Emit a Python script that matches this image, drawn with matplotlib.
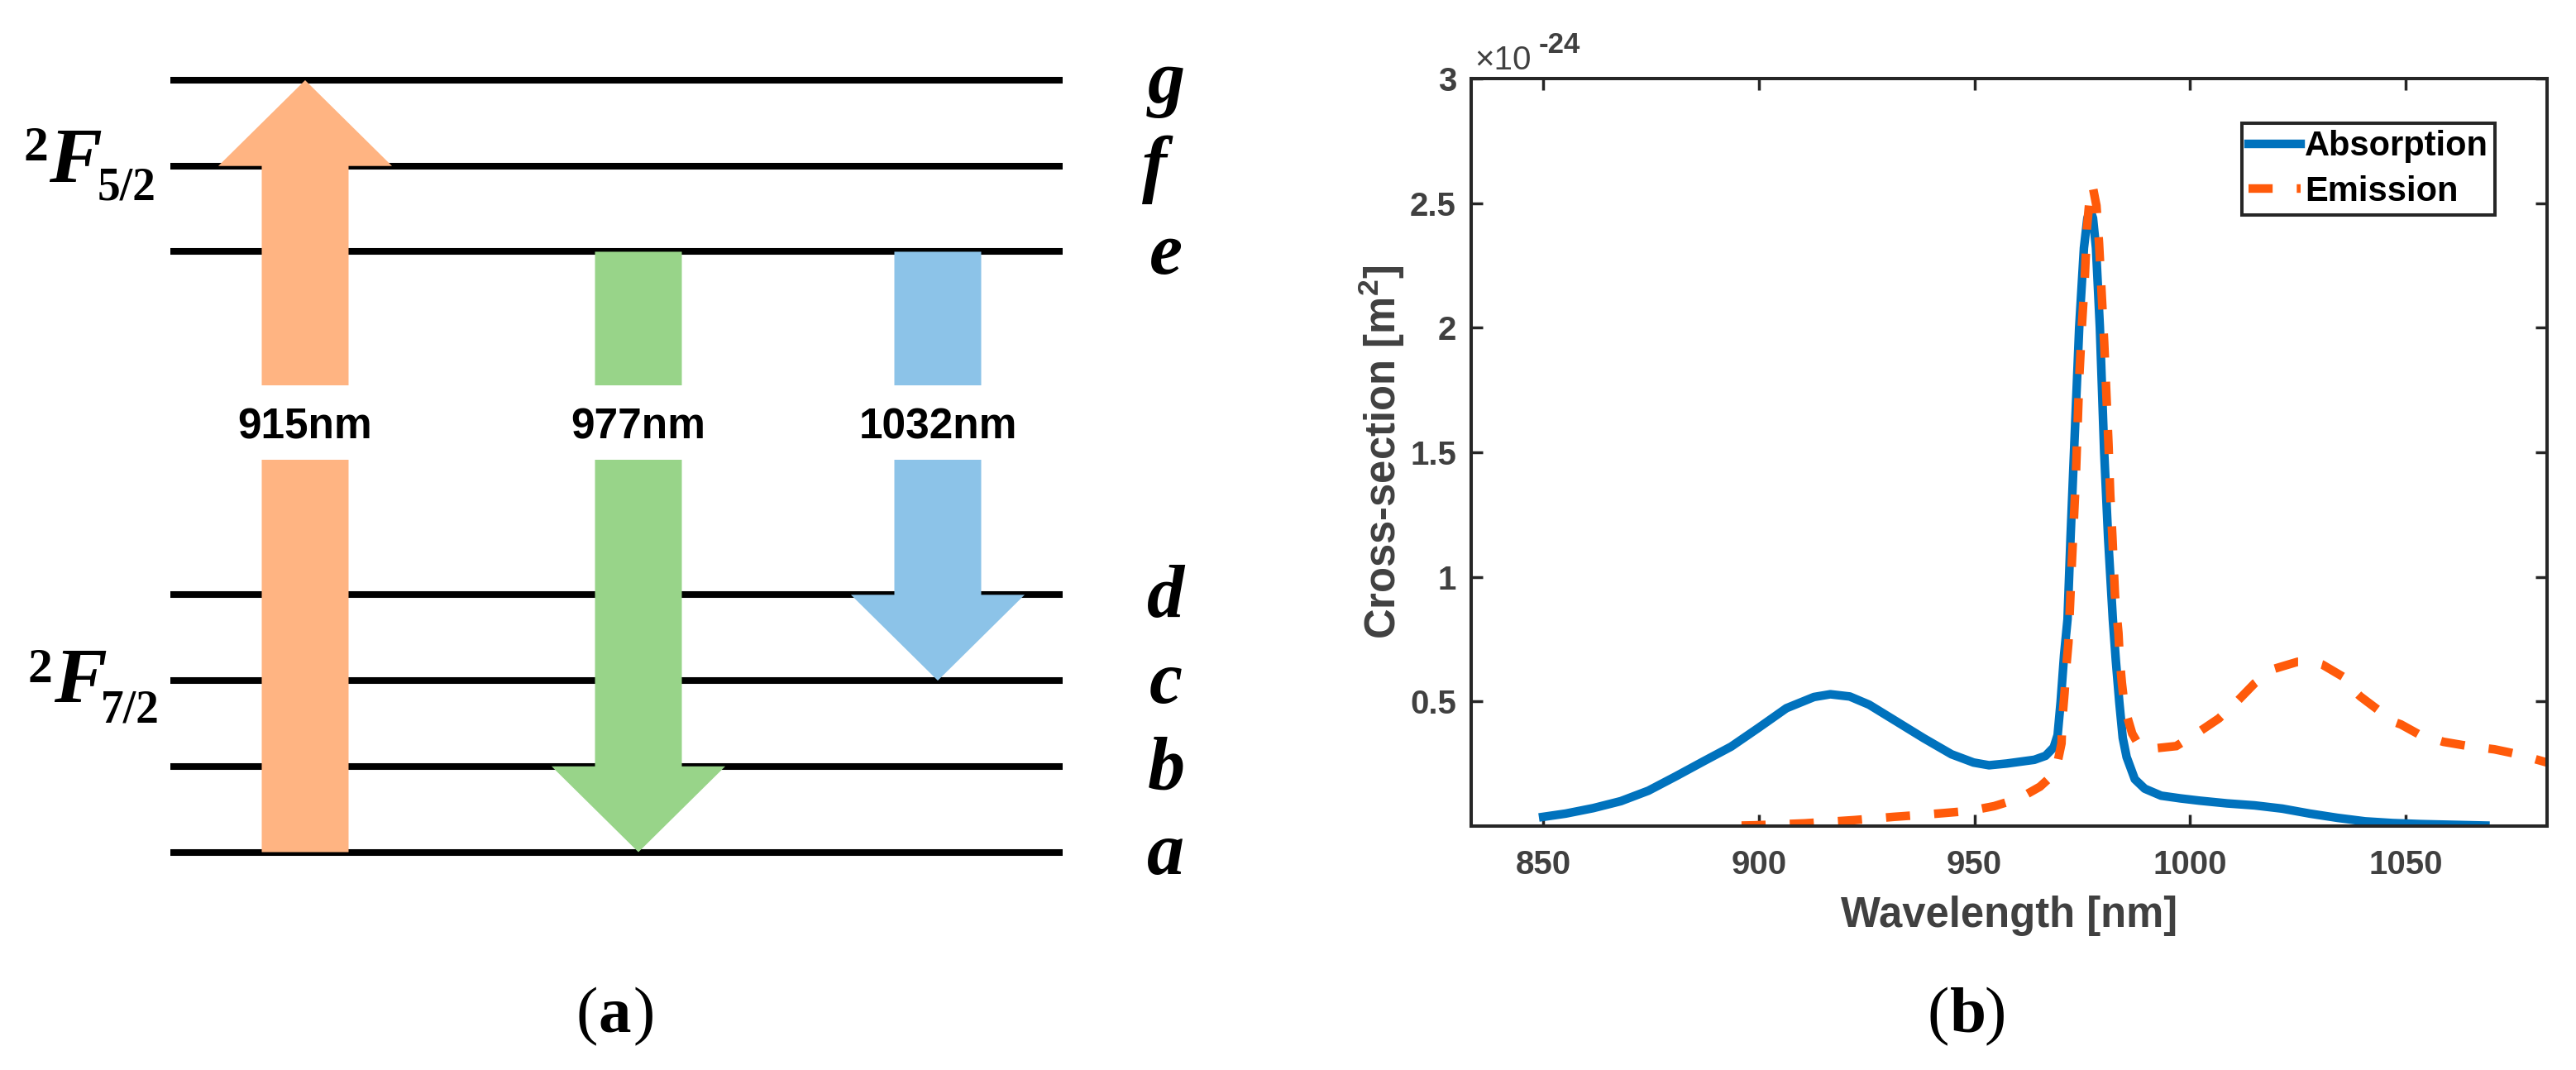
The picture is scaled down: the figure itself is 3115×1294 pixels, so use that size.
import matplotlib
matplotlib.use("Agg")
import matplotlib.pyplot as plt

W, H = 3115, 1294
DPI = 100

plt.rcParams["mathtext.fontset"] = "custom"
plt.rcParams["mathtext.rm"] = "Liberation Sans"
plt.rcParams["mathtext.bf"] = "Liberation Sans:bold"
plt.rcParams["mathtext.it"] = "Liberation Sans:italic"

# -------------------------
# Panel (a) data
# -------------------------

level_names = ["a", "b", "c", "d", "e", "f", "g"]
level_heights = [0, 1, 2, 3, 7, 8, 9]

arrow_labels = ["915nm", "977nm", "1032nm"]
arrow_x = [163, 566, 928]
arrow_start = [0, 7, 7]
arrow_end = [9, 0, 2]
arrow_colors = ["#FFB482", "#98D489", "#8CC3E8"]

# -------------------------
# Panel (b) data
# -------------------------

abs_x = [850, 855.2, 861.6, 868, 874.4, 880.8, 887.2, 893.6, 900, 906.4, 912.8,
         916.6, 921.1, 925.6, 932, 938.3, 944.7, 949.8, 953.4, 957.5, 963.9,
         966.5, 968.4, 969.3, 970, 970.8, 971.6, 972.3, 973.1, 974.3, 975.4,
         976.2, 976.9, 977.5, 978.2, 979.1, 980.1, 981, 982.1, 982.8, 983.6,
         984.4, 985.3, 987.2, 989.5, 993.3, 997.8, 1002.2, 1008.6, 1015,
         1021.4, 1027.8, 1034.2, 1040.6, 1047, 1053.4, 1068.5]
abs_y = [0.037, 0.05, 0.072, 0.10, 0.142, 0.20, 0.26, 0.319, 0.395, 0.473,
         0.518, 0.529, 0.52, 0.487, 0.419, 0.352, 0.288, 0.255, 0.244, 0.251,
         0.266, 0.282, 0.316, 0.365, 0.498, 0.687, 0.83, 1.16, 1.5, 2.0, 2.32,
         2.44, 2.47, 2.44, 2.32, 2.0, 1.5, 1.16, 0.83, 0.664, 0.498, 0.354,
         0.277, 0.188, 0.15, 0.122, 0.111, 0.102, 0.091, 0.083, 0.07, 0.05,
         0.033, 0.019, 0.012, 0.008, 0.002]

em_x = [896, 899, 910.7, 922.2, 931.3, 937, 942.8, 948.9, 954.6, 960.4, 965.2,
        967.1, 969, 970.2, 970.4, 970.9, 971.3, 971.8, 972.5, 973.5, 974.3,
        974.9, 975.6, 976.1, 976.9, 977.4, 978.3, 978.9, 979.5, 980.1, 980.6,
        981.1, 981.5, 982, 982.6, 983.4, 983.7, 984.2, 984.9, 986.6, 987.9,
        990.8, 996.8, 1001.9, 1006.7, 1010.9, 1015, 1019.5, 1024.9, 1028.5,
        1030.7, 1035.8, 1037.1, 1039.5, 1044.1, 1046, 1048.9, 1053.4, 1058.8,
        1064.6, 1070.6, 1076.1, 1082.8]
em_y = [0.002, 0.003, 0.011, 0.024, 0.037, 0.044, 0.052, 0.061, 0.08, 0.111,
        0.158, 0.188, 0.233, 0.332, 0.432, 0.534, 0.637, 0.736, 1.02, 1.39,
        1.795, 2.0, 2.2, 2.4, 2.55, 2.57, 2.49, 2.34, 2.14, 1.94, 1.735, 1.53,
        1.33, 1.16, 0.925, 0.775, 0.672, 0.574, 0.47, 0.371, 0.332, 0.31,
        0.321, 0.376, 0.432, 0.50, 0.573, 0.631, 0.659, 0.659, 0.648, 0.596,
        0.559, 0.52, 0.46, 0.426, 0.408, 0.365, 0.338, 0.321, 0.308, 0.288,
        0.255]

x_ticks = [850, 900, 950, 1000, 1050]
y_ticks = [0.5, 1, 1.5, 2, 2.5, 3]
y_tick_labels = ["0.5", "1", "1.5", "2", "2.5", "3"]


def axes_rect(left, top, right, bottom):
    return [left / W, 1 - bottom / H, (right - left) / W, (bottom - top) / H]


def put(x, y, s, **kw):
    fig.text(x / W, 1 - y / H, s, **kw)


fig = plt.figure(figsize=(W / DPI, H / DPI), dpi=DPI)

# -------------------------
# Panel (a)
# Energy levels
# -------------------------

ax_a = fig.add_axes(axes_rect(206, 97, 1285, 1030.5))
ax_a.set_xlim(0, 1079)
ax_a.set_ylim(0, 9)
ax_a.axis("off")

for name, level in zip(level_names, level_heights):
    ax_a.axhline(level, color="black", lw=5.8, zorder=1, clip_on=False,
                 solid_capstyle="butt")
    # the italic f hangs further left than the others
    letter_x = 1190 if name == "f" else 1204
    ax_a.text(letter_x, level - 0.26, name, family="Liberation Serif", weight="bold",
              style="italic", fontsize=65, ha="center", va="baseline",
              clip_on=False)

for x, start, end, color in zip(arrow_x, arrow_start, arrow_end, arrow_colors):
    ax_a.arrow(x, start, 0, end - start, width=105, head_width=210, head_length=1,
               length_includes_head=True, color=color, lw=0, zorder=2, clip_on=False)

ax_a.axhspan(4.57, 5.44, color="white", lw=0, zorder=3)

for x, label in zip(arrow_x, arrow_labels):
    ax_a.text(x, 4.95, label, family="Liberation Sans", weight="bold", fontsize=37,
              ha="center", va="center", zorder=4)

serif = dict(family="Liberation Serif", weight="bold", va="baseline", ha="left")
put(28, 194, "2", fontsize=43, **serif)
put(59, 221, "F", fontsize=69, style="italic", **serif)
put(118, 242, "5/2", fontsize=40, **serif)
put(34, 825, "2", fontsize=43, **serif)
put(65, 850, "F", fontsize=69, style="italic", **serif)
put(122, 873, "7/2", fontsize=40, **serif)

# -------------------------
# Panel (b)
# Cross-sections
# -------------------------

ax_b = fig.add_axes(axes_rect(1779, 95, 3080, 999))

ax_b.plot(abs_x, abs_y, color="#0072BD", lw=7.5, label="Absorption",
          solid_joinstyle="round")
ax_b.plot(em_x, em_y, color="#FF5A0A", lw=7.5, label="Emission",
          dashes=(2.8, 2.8), dash_capstyle="butt", dash_joinstyle="miter")

ax_b.set_xlim(833.3, 1082.8)
ax_b.set_ylim(0, 3)
ax_b.set_xticks(x_ticks)
ax_b.set_yticks(y_ticks)
ax_b.set_yticklabels(y_tick_labels)

ax_b.tick_params(axis="both", direction="in", length=10, width=2.5, color="#262626",
                 top=True, right=True, labelsize=29, labelcolor="#404040")
ax_b.tick_params(axis="x", pad=20)
ax_b.tick_params(axis="y", pad=13)
for label in ax_b.get_xticklabels() + ax_b.get_yticklabels():
    label.set_family("Liberation Sans")
    label.set_weight("bold")
for spine in ax_b.spines.values():
    spine.set_linewidth(2.9)
    spine.set_color("#262626")

ax_b.set_xlabel("Wavelength [nm]", family="Liberation Sans", weight="bold",
                fontsize=36.5, color="#404040", labelpad=13)
ax_b.set_ylabel(r"Cross-section [m$^{\mathbf{2}}$]", family="Liberation Sans",
                weight="bold", fontsize=36.5, color="#404040", labelpad=3)

legend = ax_b.legend(loc="upper left",
                     bbox_to_anchor=((2711 - 1779) / 1301, 1 - (149 - 95) / 904),
                     borderaxespad=0, borderpad=0.2, handlelength=1.5,
                     handletextpad=0.12, labelspacing=0.35, fancybox=False,
                     framealpha=1, edgecolor="#262626",
                     prop=dict(family="Liberation Sans", weight="bold", size=30))
legend.get_frame().set_linewidth(2.9)

offset = dict(family="Liberation Sans", color="#404040", ha="left", va="baseline")
put(1783, 84, "×10", fontsize=29, **offset)
put(1861, 64, "-24", fontsize=25, weight="bold", **offset)

# -------------------------
# Captions
# -------------------------

for left, letter in [(697, "a"), (2331, "b")]:
    cap = dict(family="Liberation Serif", fontsize=57, va="baseline", ha="left")
    put(left, 1248, "(", **cap)
    put(left + 27, 1248, letter, weight="bold", **cap)
    put(left + 68, 1248, ")", **cap)

fig.savefig("out.png", dpi=DPI)
plt.close(fig)
